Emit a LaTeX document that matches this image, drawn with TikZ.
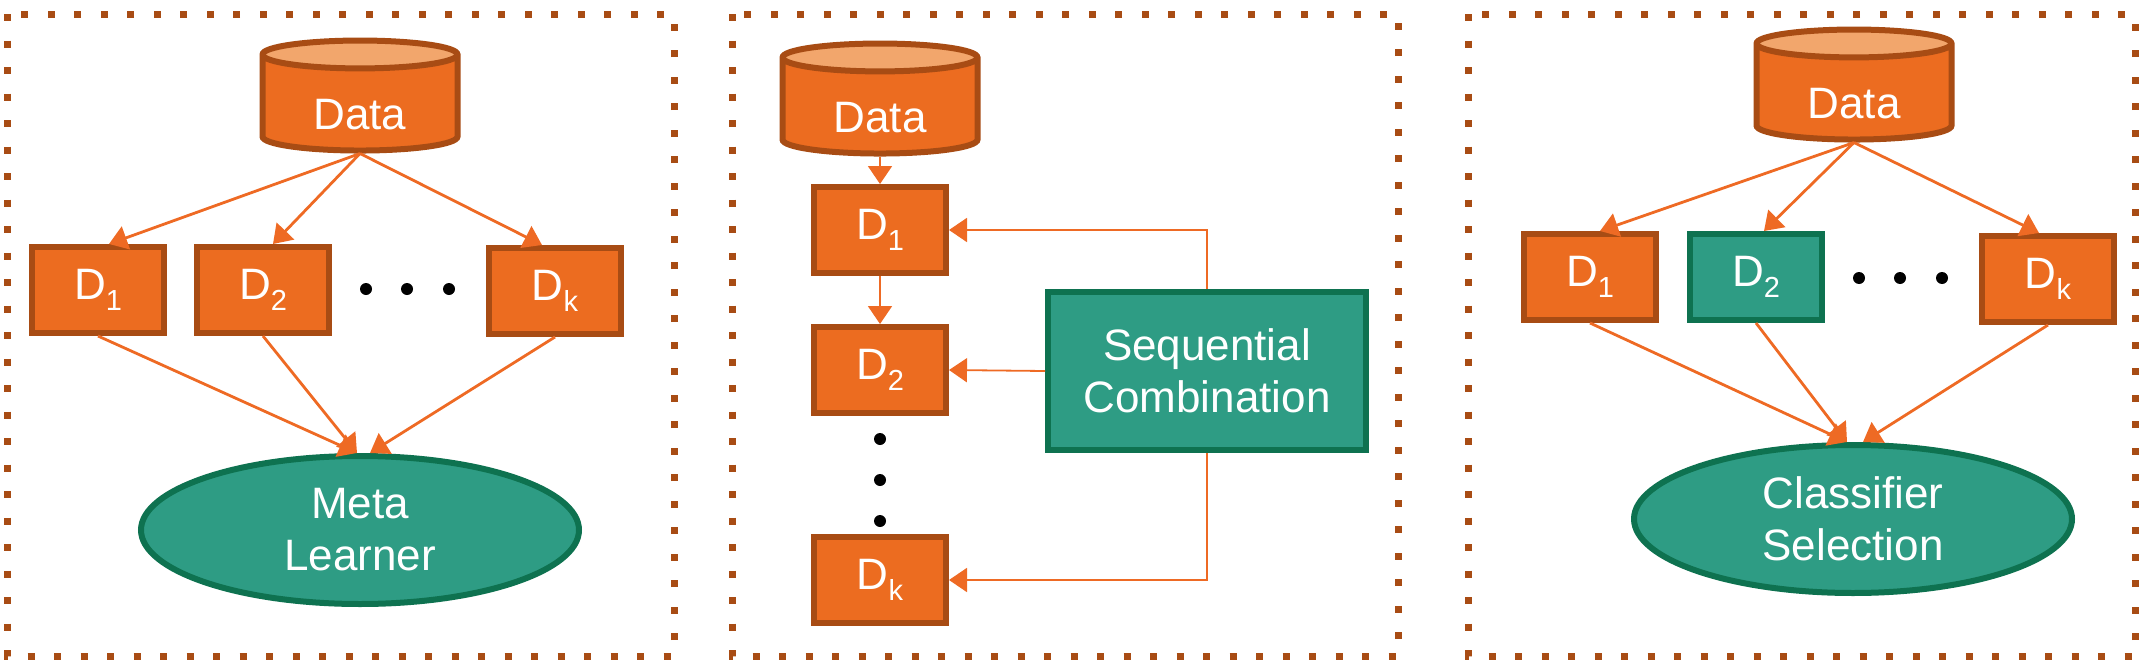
\documentclass[tikz,border=0pt]{standalone}
\usepackage{fontspec}
\setmainfont{Liberation Sans}
\usetikzlibrary{shapes.geometric,arrows.meta}

\definecolor{boxfill}{HTML}{EC6C20}
\definecolor{boxedge}{HTML}{A84C14}
\definecolor{toplight}{HTML}{F2A66C}
\definecolor{greenfill}{HTML}{2E9C84}
\definecolor{greenedge}{HTML}{0E7250}
\definecolor{linkcol}{HTML}{EE6A24}

\newcommand{\idx}[1]{\raisebox{-5.3pt}{\fontsize{14.5}{14.5}\selectfont #1}}

\tikzstyle{dbox} = [rectangle, draw=boxedge, fill=boxfill, line width=3pt,
minimum width=66pt, minimum height=43pt, inner sep=0pt, text=white]
\tikzstyle{gbox} = [dbox, draw=greenedge, fill=greenfill]
\tikzstyle{learner} = [ellipse, draw=greenedge, fill=greenfill, line width=3pt,
minimum width=219pt, minimum height=74pt, inner sep=0pt, text=white, align=center]
\tikzstyle{combiner} = [gbox, minimum width=159pt, minimum height=79pt, align=center]
\tikzstyle{store} = [cylinder, shape border rotate=90, draw=boxedge, line width=3pt,
cylinder uses custom fill, cylinder body fill=boxfill, cylinder end fill=toplight,
aspect=0.3, minimum width=97.5pt, minimum height=55pt, inner sep=0pt, text=white,
text height=26pt]
\tikzstyle{panel} = [draw=boxedge, line width=3.5pt, dash pattern=on 3.5pt off 9.75pt]
\tikzstyle{line} = [draw=linkcol, line width=1.4pt, -{Triangle[length=9pt,width=12pt]}]
\tikzstyle{thinline} = [line, line width=0.9pt]

\begin{document}
\begin{tikzpicture}[x=0.5pt, y=-0.5pt, font=\fontsize{22}{26}\selectfont]
		\useasboundingbox (0,0) rectangle (2142,664);
		\draw [panel] (7,14) rectangle (674,656);
		\draw [panel] (732,14) rectangle (1398,656);
		\draw [panel] (1468,14) rectangle (2135,656);

		% meta learning
		\node [store] (Data) at (360,104) {Data};
		\node [dbox] (D1) at (98,290) {D\idx{1}};
		\node [dbox] (D2) at (263,290) {D\idx{2}};
		\node [dbox] (Dk) at (555,291) {D\idx{k}};
		\node [learner] (Meta) at (360,530) {Meta\\Learner};
		\foreach \x in {366,407,449} \fill (\x,289) circle (3pt);

		\path [line] (Data.south) -- ([xshift=5.5pt]D1.north);
		\path [line] (Data.south) -- ([xshift=5pt]D2.north);
		\path [line] (Data.south) -- ([xshift=-6.5pt]Dk.north);
		\path [line] (D1.south) -- ([xshift=-1.5pt]Meta.north);
		\path [line] (D2.south) -- ([xshift=-1.5pt]Meta.north);
		\path [line] (Dk.south) -- ([xshift=5pt]Meta.north);

		% sequential
		\node [store] (SData) at (880,107) {Data};
		\node [dbox] (S1) at (880,230) {D\idx{1}};
		\node [dbox] (S2) at (880,370) {D\idx{2}};
		\node [dbox] (Sk) at (880,580) {D\idx{k}};
		\node [combiner] (Seq) at (1207,371) {Sequential\\Combination};
		\foreach \y in {439,480,521} \fill (880,\y) circle (3pt);

		\path [thinline] (SData.south) -- (S1.north);
		\path [thinline] (S1.south) -- (S2.north);
		\path [thinline] (Seq.north) |- (S1.east);
		\path [thinline] (Seq.west) -- (S2.east);
		\path [thinline] (Seq.south) |- (Sk.east);

		% selection
		\node [store] (CData) at (1854,93) {Data};
		\node [dbox] (C1) at (1590,277) {D\idx{1}};
		\node [gbox] (C2) at (1756,277) {D\idx{2}};
		\node [dbox] (Ck) at (2048,279) {D\idx{k}};
		\node [learner] (Select) at (1853,519) {Classifier\\Selection};
		\foreach \x in {1859,1900,1942} \fill (\x,278) circle (3pt);

		\path [line] (CData.south) -- ([xshift=5pt]C1.north);
		\path [line] (CData.south) -- ([xshift=4pt]C2.north);
		\path [line] (CData.south) -- ([xshift=-4.5pt]Ck.north);
		\path [line] (C1.south) -- ([xshift=-3pt]Select.north);
		\path [line] (C2.south) -- ([xshift=-3pt]Select.north);
		\path [line] (Ck.south) -- ([xshift=5pt]Select.north);
	\end{tikzpicture}
\end{document}
